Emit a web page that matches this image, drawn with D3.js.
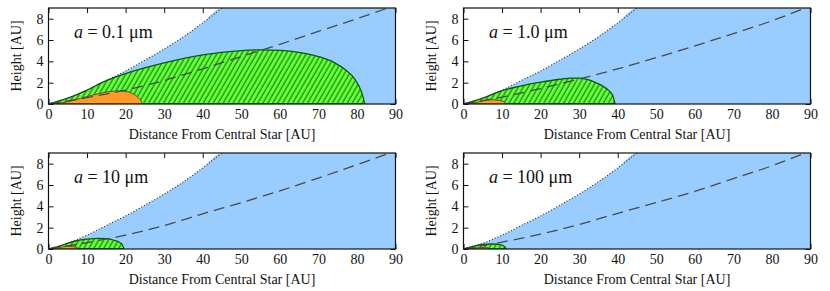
<!DOCTYPE html>
<html>
<head>
<meta charset="utf-8">
<script src="https://cdn.jsdelivr.net/npm/d3@7"></script>
<style>
  html, body { margin: 0; padding: 0; background: #fff; }
</style>
</head>
<body>
<div id="chart"></div>
<script>
const serif = "'Liberation Serif', 'Times New Roman', Times, 'DejaVu Serif', serif";

// grain sizes, one panel each
const grainSizes = ["0.1", "1.0", "10", "100"];

const xTicks = [0, 10, 20, 30, 40, 50, 60, 70, 80, 90];
const yTicks = [0, 2, 4, 6, 8];

// dotted envelope (same in all panels)
const dottedX = [0, 5, 10, 15, 20, 25, 30, 35, 40, 45];
const dottedH = [0, 0.55, 1.3, 2.2, 3.1, 4.1, 5.15, 6.3, 7.6, 9.0];

// dashed line per panel
const dashedX = [0, 10, 20, 30, 40, 50, 60, 70, 80, 90];
const dashedH1 = [0, 0.6, 1.3, 2.2, 3.3, 4.45, 5.6, 6.8, 8.0, 9.25];
const dashedH2 = [0, 0.65, 1.45, 2.35, 3.3, 4.35, 5.45, 6.6, 7.8, 9.2];
const dashedH3 = [0, 0.6, 1.3, 2.2, 3.3, 4.35, 5.45, 6.65, 7.9, 9.2];
const dashedH4 = [0, 0.65, 1.4, 2.3, 3.35, 4.35, 5.4, 6.6, 7.8, 9.2];

// green (hatched) region per panel
const greenX1 = [0, 5, 10, 13.5, 20, 30, 40, 50, 55, 60, 65, 70, 74, 77, 79.5, 81, 81.7, 82];
const greenH1 = [0, 0.55, 1.3, 1.95, 2.85, 3.85, 4.6, 5.0, 5.08, 5.03, 4.85, 4.45, 3.9, 3.2, 2.3, 1.3, 0.5, 0];
const greenX2 = [0, 5, 10, 15, 20, 25, 28, 30, 32, 34, 36, 37.7, 38.8, 39.3];
const greenH2 = [0, 0.55, 1.25, 1.7, 2.05, 2.32, 2.42, 2.42, 2.3, 2.05, 1.7, 1.25, 0.7, 0];
const greenX3 = [0, 3, 5, 7, 10, 13, 15, 17, 18.5, 19.2, 19.6];
const greenH3 = [0, 0.3, 0.55, 0.75, 0.93, 1.0, 0.97, 0.82, 0.6, 0.35, 0];
const greenX4 = [0, 3, 5, 7.5, 9.5, 10.5, 11.1];
const greenH4 = [0, 0.3, 0.42, 0.47, 0.4, 0.25, 0];

// orange region per panel
const orangeX1 = [0, 3, 6.5, 10, 13.5, 16, 18.5, 20.5, 22, 23.3, 24, 24.3];
const orangeH1 = [0, 0.08, 0.35, 0.7, 1.0, 1.17, 1.22, 1.15, 0.95, 0.6, 0.3, 0];
const orangeX2 = [0, 3, 5, 7, 9, 10.5, 11.3];
const orangeH2 = [0, 0.1, 0.3, 0.4, 0.35, 0.2, 0];
const orangeX3 = [0, 2, 4, 5.5, 7, 8];
const orangeH3 = [0, 0.1, 0.22, 0.25, 0.18, 0];
const orangeX4 = [0, 2, 4, 5.5, 6.5, 7];
const orangeH4 = [0, 0.05, 0.13, 0.15, 0.1, 0];

const zip = (xs, ys) => xs.map((v, i) => [v, ys[i]]);
const panels = [
  { size: grainSizes[0], dashed: zip(dashedX, dashedH1), green: zip(greenX1, greenH1), orange: zip(orangeX1, orangeH1) },
  { size: grainSizes[1], dashed: zip(dashedX, dashedH2), green: zip(greenX2, greenH2), orange: zip(orangeX2, orangeH2) },
  { size: grainSizes[2], dashed: zip(dashedX, dashedH3), green: zip(greenX3, greenH3), orange: zip(orangeX3, orangeH3) },
  { size: grainSizes[3], dashed: zip(dashedX, dashedH4), green: zip(greenX4, greenH4), orange: zip(orangeX4, orangeH4) }
];
const dotted = zip(dottedX, dottedH);

const width = 830, height = 291;
const pw = 347, ph = 96;
const lefts = [48.5, 463.5], tops = [8, 153];

const svg = d3.select('#chart').append('svg')
  .attr('width', width).attr('height', height)
  .style('font-family', serif);

const defs = svg.append('defs');
defs.append('clipPath').attr('id', 'plotClip')
  .append('rect').attr('width', pw).attr('height', ph);

const hatch = defs.append('pattern')
  .attr('id', 'hatch')
  .attr('patternUnits', 'userSpaceOnUse')
  .attr('width', 4.3).attr('height', 10)
  .attr('patternTransform', 'rotate(30)');
hatch.append('rect').attr('width', 4.3).attr('height', 10).attr('fill', '#66ff3a');
hatch.append('line').attr('x1', 1).attr('y1', 0).attr('x2', 1).attr('y2', 10)
  .attr('stroke', '#0b7a10').attr('stroke-width', 1.1);

const x = d3.scaleLinear().domain([0, 90]).range([0, pw]);
const y = d3.scaleLinear().domain([0, 9]).range([ph, 0]);

const area = d3.area().x(d => x(d[0])).y0(y(0)).y1(d => y(d[1])).curve(d3.curveMonotoneX);
const line = d3.line().x(d => x(d[0])).y(d => y(d[1])).curve(d3.curveMonotoneX);

panels.forEach((p, i) => {
  const g = svg.append('g')
    .attr('transform', `translate(${lefts[i % 2]},${tops[Math.floor(i / 2)]})`);

  // ticks (drawn behind the fills, pointing inward)
  const styleAxis = sel => {
    sel.attr('font-family', null).attr('font-size', null);
    sel.select('.domain').remove();
    sel.selectAll('line').attr('stroke', '#111');
    sel.selectAll('text')
      .style('font-family', serif)
      .style('font-size', '14px')
      .attr('fill', '#111');
  };
  g.append('g').attr('transform', `translate(0,${ph})`)
    .call(d3.axisBottom(x).tickValues(xTicks).tickSize(-5).tickPadding(5))
    .call(styleAxis);
  g.append('g')
    .call(d3.axisTop(x).tickValues(xTicks).tickSize(-5).tickFormat(''))
    .call(styleAxis);
  g.append('g')
    .call(d3.axisLeft(y).tickValues(yTicks).tickSize(-5).tickPadding(5))
    .call(styleAxis);
  g.append('g').attr('transform', `translate(${pw},0)`)
    .call(d3.axisRight(y).tickValues(yTicks).tickSize(-5).tickFormat(''))
    .call(styleAxis);

  const plot = g.append('g').attr('clip-path', 'url(#plotClip)');

  // blue region below dotted envelope
  plot.append('path')
    .datum(dotted.concat([[90, 9]]))
    .attr('d', area)
    .attr('fill', '#99ccff');

  // green hatched region
  plot.append('path')
    .datum(p.green)
    .attr('d', area)
    .attr('fill', 'url(#hatch)')
    .attr('stroke', '#0a5a0a')
    .attr('stroke-width', 1.3);

  // orange region
  plot.append('path')
    .datum(p.orange)
    .attr('d', area)
    .attr('fill', '#ff9a2a')
    .attr('stroke', '#5a5a10')
    .attr('stroke-width', 1);

  // dashed line
  plot.append('path')
    .datum(p.dashed)
    .attr('d', line)
    .attr('fill', 'none')
    .attr('stroke', '#4a4a4a')
    .attr('stroke-width', 1.3)
    .attr('stroke-dasharray', '11,6');

  // dotted envelope
  plot.append('path')
    .datum(dotted)
    .attr('d', line)
    .attr('fill', 'none')
    .attr('stroke', '#333')
    .attr('stroke-width', 1.2)
    .attr('stroke-dasharray', '1,2');

  // frame
  g.append('rect')
    .attr('width', pw).attr('height', ph)
    .attr('fill', 'none').attr('stroke', '#111').attr('stroke-width', 1.2);

  // grain size label
  const lbl = g.append('text')
    .attr('x', x(6.6)).attr('y', y(6.2))
    .style('font-family', serif)
    .style('font-size', '18px')
    .attr('fill', '#111');
  lbl.append('tspan').style('font-style', 'italic').text('a');
  lbl.append('tspan').text(` = ${p.size} \u03bcm`);

  // axis titles
  g.append('text')
    .attr('x', pw / 2).attr('y', ph + 35)
    .attr('text-anchor', 'middle')
    .style('font-family', serif)
    .style('font-size', '14px')
    .attr('fill', '#111')
    .text('Distance From Central Star [AU]');
  g.append('text')
    .attr('transform', `translate(${21 - lefts[i % 2] + (i % 2) * 415},${ph / 2}) rotate(-90)`)
    .attr('text-anchor', 'middle')
    .style('font-family', serif)
    .style('font-size', '14px')
    .attr('fill', '#111')
    .text('Height [AU]');
});
</script>
</body>
</html>
